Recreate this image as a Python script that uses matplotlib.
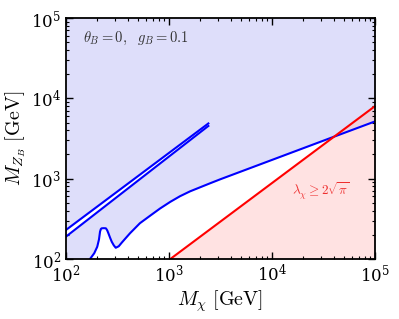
import numpy as np
import matplotlib
matplotlib.use('Agg')
import matplotlib.pyplot as plt

plt.rcParams['mathtext.fontset'] = 'cm'
plt.rcParams['font.family'] = 'serif'
plt.rcParams['font.serif'] = ['DejaVu Serif']

# lower blue curve (boundary of the blue region)
mchi_blue = [171, 188, 201, 209, 214, 218, 222, 233, 244, 251, 258, 268, 278, 291,
             304, 325, 348, 380, 418, 465, 522, 654, 818, 1030, 1280, 1600, 2000,
             2500, 3130, 4890, 7640, 18700, 40000, 100000]
mz_blue = [100, 118, 142, 175, 219, 236, 241, 242, 241, 228, 209, 184, 164, 148,
           138, 144, 160, 182, 209, 240, 279, 345, 425, 515, 605, 695, 780,
           875, 980, 1214, 1504, 2312, 3330, 5160]

# the two nearly parallel blue lines
mchi_par = [100, 2410]
mz_par_up = [230, 4865]
mz_par_lo = [190, 4530]

# red perturbativity line
mchi_red = [1030, 100000]
mz_red = [100, 8000]

fig = plt.figure(figsize=(3.99, 3.19), dpi=100)
ax = fig.add_axes([66/399, 1-259/319, 309/399, 241/319])

xfill = np.concatenate([[100], mchi_blue])
yfill = np.concatenate([[100], mz_blue])
ax.fill_between(xfill, yfill, 1e5, color=(0.75, 0.75, 0.97), alpha=0.5, lw=0)
ax.fill_between(mchi_par, mz_par_lo, mz_par_up, color='white', lw=0)

ax.fill_between(mchi_red, 100, mz_red, color=(1.0, 0.75, 0.75), alpha=0.45, lw=0)

ax.plot(mchi_blue, mz_blue, color='blue', lw=1.5)
ax.plot(mchi_par, mz_par_up, color='blue', lw=1.5)
ax.plot(mchi_par, mz_par_lo, color='blue', lw=1.5)
ax.plot(mchi_red, mz_red, color='red', lw=1.5)

ax.set_xscale('log')
ax.set_yscale('log')
ax.set_xlim(1e2, 1e5)
ax.set_ylim(1e2, 1e5)

ax.tick_params(which='both', direction='in', top=True, right=True, labelsize=12)
ax.tick_params(which='major', length=5, width=1)
ax.tick_params(which='minor', length=2.5, width=0.8)
for s in ax.spines.values():
    s.set_linewidth(1.3)

ax.set_xlabel(r'$M_\chi\ [\mathrm{GeV}]$', fontsize=14.5, labelpad=2)
ax.set_ylabel(r'$M_{Z_B}\ [\mathrm{GeV}]$', fontsize=14.5, labelpad=2)

ax.text(0.056, 0.916, r'$\theta_B = 0,\ \ g_B = 0.1$', transform=ax.transAxes,
        fontsize=10.5, color='#333333', va='center')
ax.text(0.73, 0.286, r'$\lambda_\chi \geq 2\sqrt{\pi}$', transform=ax.transAxes,
        fontsize=9.5, color='#ee3030', va='center')

fig.savefig('out.png', dpi=100)
